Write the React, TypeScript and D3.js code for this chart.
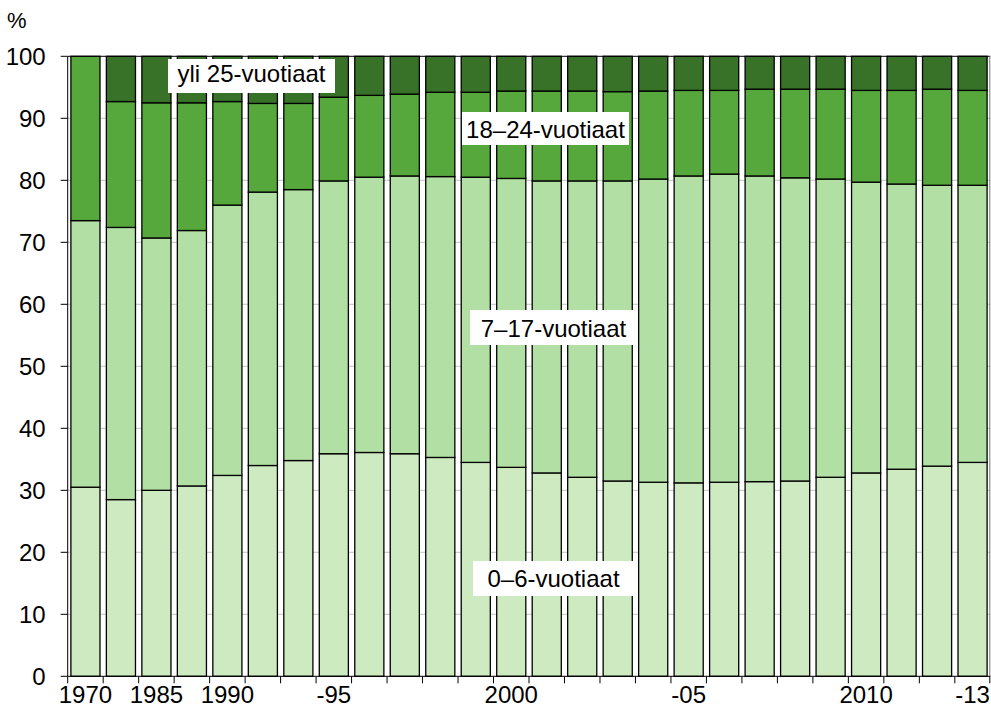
import React, { useEffect, useRef } from "react";
import * as d3 from "d3";

// years on the x axis (one bar each)
const years = [
  1970, 1980, 1985, 1988, 1990, 1993, 1994, 1995, 1996, 1997, 1998, 1999, 2000,
  2001, 2002, 2003, 2004, 2005, 2006, 2007, 2008, 2009, 2010, 2011, 2012, 2013,
];
const labeledYears = [1970, 1985, 1990, 1995, 2000, 2005, 2010, 2013];
const labelTexts = ["1970", "1985", "1990", "-95", "2000", "-05", "2010", "-13"];

// shares by age group, %
const age0to6 = [
  30.5, 28.5, 30.0, 30.7, 32.4, 34.0, 34.8, 35.9, 36.1, 35.9, 35.3, 34.5, 33.7,
  32.8, 32.1, 31.5, 31.3, 31.2, 31.3, 31.4, 31.5, 32.1, 32.8, 33.4, 33.9, 34.5,
];
const age7to17 = [
  43.0, 43.9, 40.7, 41.2, 43.6, 44.1, 43.7, 44.0, 44.4, 44.8, 45.3, 46.0, 46.6,
  47.1, 47.8, 48.4, 48.9, 49.5, 49.7, 49.3, 48.9, 48.1, 46.9, 46.0, 45.3, 44.7,
];
const age18to24 = [
  26.5, 20.3, 21.8, 20.6, 16.7, 14.3, 13.9, 13.5, 13.2, 13.2, 13.6, 13.7, 14.1,
  14.5, 14.5, 14.4, 14.2, 13.8, 13.5, 14.0, 14.3, 14.5, 14.8, 15.1, 15.5, 15.3,
];
const age25plus = [
  0.0, 7.3, 7.5, 7.5, 7.3, 7.6, 7.6, 6.6, 6.3, 6.1, 5.8, 5.8, 5.6,
  5.6, 5.6, 5.7, 5.6, 5.5, 5.5, 5.3, 5.3, 5.3, 5.5, 5.5, 5.3, 5.5,
];

const seriesKeys = ["a0_6", "a7_17", "a18_24", "a25"];
const seriesNames = ["0–6-vuotiaat", "7–17-vuotiaat", "18–24-vuotiaat", "yli 25-vuotiaat"];
const colors = ["#cdeac1", "#b2dfa3", "#56a73c", "#387128"];
const yTicks = [0, 10, 20, 30, 40, 50, 60, 70, 80, 90, 100];

// where the in-chart labels sit (box left, top, width, height, text baseline)
const labelBoxes = [
  { x: 473, y: 561, w: 161, h: 35, base: 587 },
  { x: 470, y: 310, w: 167, h: 35, base: 336.5 },
  { x: 462, y: 112, w: 167, h: 33, base: 138 },
  { x: 168, y: 59, w: 167, h: 34, base: 82 },
];

const FONT = "'Liberation Sans', Arial, sans-serif";

export default function App() {
  const ref = useRef<SVGSVGElement>(null);

  useEffect(() => {
    const width = 991;
    const height = 708;
    const margin = { top: 56.3, right: 0.7, bottom: 31.7, left: 67.7 };

    const svg = d3.select(ref.current);
    svg.selectAll("*").remove();
    svg.attr("width", width).attr("height", height);

    const rows = years.map((yr, i) => ({
      year: String(yr),
      a0_6: age0to6[i],
      a7_17: age7to17[i],
      a18_24: age18to24[i],
      a25: age25plus[i],
    }));

    const x = d3
      .scaleBand()
      .domain(rows.map((d) => d.year))
      .range([margin.left, width - margin.right])
      .paddingInner(0.18)
      .paddingOuter(0.09);
    const step = x.step();
    const bandStart = (yr: string) => x(yr)! - step * 0.09;

    const y = d3.scaleLinear().domain([0, 100]).range([height - margin.bottom, margin.top]);

    // grid
    svg
      .append("g")
      .selectAll("line")
      .data(yTicks.filter((t) => t > 0 && t < 100))
      .join("line")
      .attr("x1", margin.left)
      .attr("x2", width - margin.right)
      .attr("y1", (d) => y(d))
      .attr("y2", (d) => y(d))
      .attr("stroke", "#c3c3c3")
      .attr("stroke-width", 1);

    const stacked = d3.stack<any>().keys(seriesKeys)(rows);

    svg
      .append("g")
      .selectAll("g")
      .data(stacked)
      .join("g")
      .attr("fill", (_, i) => colors[i])
      .selectAll("rect")
      .data((s) => s.filter((d) => d[1] - d[0] > 0))
      .join("rect")
      .attr("x", (d) => x(d.data.year)!)
      .attr("width", x.bandwidth())
      .attr("y", (d) => y(d[1]))
      .attr("height", (d) => y(d[0]) - y(d[1]))
      .attr("stroke", "#000")
      .attr("stroke-width", 1.3);

    // frame: top and right
    svg
      .append("line")
      .attr("x1", margin.left)
      .attr("x2", width - margin.right)
      .attr("y1", y(100))
      .attr("y2", y(100))
      .attr("stroke", "#000");
    svg
      .append("line")
      .attr("x1", width - margin.right - 0.5)
      .attr("x2", width - margin.right - 0.5)
      .attr("y1", y(100))
      .attr("y2", y(0))
      .attr("stroke", "#777");

    // y axis
    const yAxis = svg.append("g").attr("transform", `translate(${margin.left},0)`);
    yAxis
      .append("line")
      .attr("y1", y(100))
      .attr("y2", y(0))
      .attr("stroke", "#000");
    yAxis
      .selectAll("line.tick")
      .data(yTicks)
      .join("line")
      .attr("class", "tick")
      .attr("x1", -7)
      .attr("x2", 0)
      .attr("y1", (d) => y(d))
      .attr("y2", (d) => y(d))
      .attr("stroke", "#000");
    yAxis
      .selectAll("text")
      .data(yTicks)
      .join("text")
      .attr("x", -22)
      .attr("y", (d) => y(d) + 8.5)
      .attr("text-anchor", "end")
      .style("font-family", FONT)
      .style("font-size", "24px")
      .attr("fill", "#000")
      .text((d) => d);

    svg
      .append("text")
      .attr("x", 7)
      .attr("y", 28)
      .style("font-family", FONT)
      .style("font-size", "22px")
      .text("%");

    // x axis
    const xAxis = svg.append("g").attr("transform", `translate(0,${y(0)})`);
    xAxis
      .append("line")
      .attr("x1", margin.left)
      .attr("x2", width - margin.right)
      .attr("stroke", "#000");
    xAxis
      .selectAll("line.tick")
      .data(rows)
      .join("line")
      .attr("class", "tick")
      .attr("x1", (d) => bandStart(d.year))
      .attr("x2", (d) => bandStart(d.year))
      .attr("y1", 0)
      .attr("y2", 7)
      .attr("stroke", "#000");
    xAxis
      .append("line")
      .attr("x1", width - margin.right - 0.5)
      .attr("x2", width - margin.right - 0.5)
      .attr("y1", 0)
      .attr("y2", 7)
      .attr("stroke", "#000");
    xAxis
      .selectAll("text")
      .data(labeledYears)
      .join("text")
      .attr("x", (d, i) => {
        const c = x(String(d))! + x.bandwidth() / 2;
        return i === labeledYears.length - 1 ? Math.min(c, width - 18) : c;
      })
      .attr("y", 27)
      .attr("text-anchor", "middle")
      .style("font-family", FONT)
      .style("font-size", "24px")
      .attr("fill", "#000")
      .text((_, i) => labelTexts[i]);

    // series labels inside the chart
    const lab = svg.append("g").selectAll("g").data(labelBoxes).join("g");
    lab
      .append("rect")
      .attr("x", (d) => d.x)
      .attr("y", (d) => d.y)
      .attr("width", (d) => d.w)
      .attr("height", (d) => d.h)
      .attr("fill", "#fff");
    lab
      .append("text")
      .attr("x", (d) => d.x + d.w / 2)
      .attr("y", (d) => d.base)
      .attr("text-anchor", "middle")
      .style("font-family", FONT)
      .style("font-size", "24px")
      .attr("fill", "#000")
      .text((_, i) => seriesNames[i]);
  }, []);

  return (
    <div style={{ position: "absolute", left: 0, top: 0 }}>
      <svg ref={ref} style={{ display: "block" }} />
    </div>
  );
}
